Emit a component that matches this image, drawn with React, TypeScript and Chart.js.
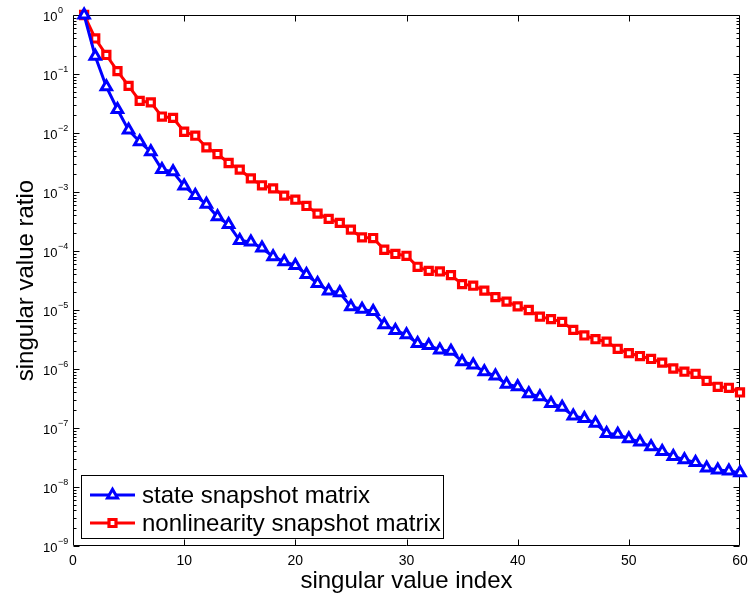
import React, { useEffect, useRef } from 'react';
import { Chart, registerables } from 'chart.js';

Chart.register(...registerables);

const FONT = '"Liberation Sans", Arial, Helvetica, sans-serif';

const indices = [
  1, 2, 3, 4, 5, 6, 7, 8, 9, 10, 11, 12, 13, 14, 15, 16, 17, 18, 19, 20,
  21, 22, 23, 24, 25, 26, 27, 28, 29, 30, 31, 32, 33, 34, 35, 36, 37, 38, 39, 40,
  41, 42, 43, 44, 45, 46, 47, 48, 49, 50, 51, 52, 53, 54, 55, 56, 57, 58, 59, 60,
];

const stateRatios = [
  1.0, 0.2, 0.061, 0.025, 0.0112, 0.0071, 0.0048, 0.0024, 0.0022, 0.00126,
  0.00087, 0.00062, 0.00038, 0.00028, 0.00015, 0.000142, 0.000112, 0.00008, 0.000066, 0.000057,
  0.00004, 0.000028, 0.000021, 0.0000196, 0.0000114, 0.0000103, 0.0000094, 0.0000056, 0.0000045, 0.0000038,
  0.0000027, 0.0000025, 0.0000021, 0.000002, 0.00000133, 0.00000117, 0.0000009, 0.00000076, 0.00000055, 0.0000005,
  0.00000038, 0.00000034, 0.00000026, 0.000000224, 0.00000016, 0.000000145, 0.00000012, 0.000000081, 0.000000078, 0.000000066,
  0.000000058, 0.000000048, 0.00000004, 0.000000033, 0.000000029, 0.000000026, 0.000000021, 0.0000000195, 0.0000000187, 0.0000000175,
];

const nonlinearityRatios = [
  1.0, 0.4, 0.21, 0.112, 0.063, 0.035, 0.033, 0.019, 0.018, 0.0105,
  0.009, 0.0057, 0.0044, 0.0031, 0.0024, 0.0017, 0.0013, 0.00115, 0.00087, 0.00074,
  0.00058, 0.00043, 0.00035, 0.0003, 0.00023, 0.00017, 0.000166, 0.000105, 0.000089, 0.000083,
  0.000054, 0.000046, 0.000045, 0.000039, 0.0000274, 0.0000258, 0.0000213, 0.0000165, 0.0000139, 0.0000115,
  0.00001, 0.0000077, 0.000007, 0.0000063, 0.0000046, 0.0000037, 0.0000032, 0.0000029, 0.0000022, 0.00000185,
  0.00000166, 0.00000148, 0.00000128, 0.00000102, 0.0000009, 0.00000083, 0.00000063, 0.0000005, 0.00000048, 0.0000004,
];

const seriesLabels = ['state snapshot matrix', 'nonlinearity snapshot matrix'];
const seriesColors = ['#0000ff', '#ff0000'];
const yExponents = [0, -1, -2, -3, -4, -5, -6, -7, -8, -9];
const yMinorMultipliers = [2, 3, 4, 5, 6, 7, 8, 9];
const xTickValues = [0, 10, 20, 30, 40, 50, 60];

function drawMarker(ctx: CanvasRenderingContext2D, style: string, cx: number, cy: number, color: string) {
  ctx.save();
  ctx.strokeStyle = color;
  ctx.fillStyle = '#ffffff';
  ctx.beginPath();
  if (style === 'triangle') {
    ctx.lineWidth = 3;
    const r = 5.8;
    ctx.moveTo(cx, cy - r);
    ctx.lineTo(cx + r * 0.866, cy + r * 0.5);
    ctx.lineTo(cx - r * 0.866, cy + r * 0.5);
    ctx.closePath();
  } else {
    ctx.lineWidth = 3.2;
    const h = 3.5;
    ctx.rect(cx - h, cy - h, 2 * h, 2 * h);
  }
  ctx.fill();
  ctx.stroke();
  ctx.restore();
}

const framePlugin = {
  id: 'matlabFrame',
  beforeDatasetsDraw(chart: any) {
    const { ctx, chartArea, scales } = chart;
    const { left, right, top, bottom } = chartArea;
    const ys = scales.y;
    const xs = scales.x;
    ctx.save();
    ctx.strokeStyle = '#000';
    ctx.lineWidth = 1;
    const L = Math.round(left) + 0.5;
    const R = Math.round(right) - 0.5;
    const T = Math.round(top) + 0.5;
    const B = Math.round(bottom) - 0.5;
    ctx.beginPath();
    ctx.rect(L, T, R - L, B - T);
    for (const e of yExponents) {
      const base = Math.pow(10, e);
      const py = Math.round(ys.getPixelForValue(base)) + 0.5;
      ctx.moveTo(L, py); ctx.lineTo(L + 6, py);
      ctx.moveTo(R, py); ctx.lineTo(R - 6, py);
      if (e < 0) {
        for (const m of yMinorMultipliers) {
          const my = Math.round(ys.getPixelForValue(m * base)) + 0.5;
          ctx.moveTo(L, my); ctx.lineTo(L + 3, my);
          ctx.moveTo(R, my); ctx.lineTo(R - 3, my);
        }
      }
    }
    for (const v of xTickValues) {
      if (v === 0 || v === 60) continue;
      const px = Math.round(xs.getPixelForValue(v)) + 0.5;
      ctx.moveTo(px, B); ctx.lineTo(px, B - 6);
      ctx.moveTo(px, T); ctx.lineTo(px, T + 6);
    }
    ctx.stroke();

    // y tick labels 10^e
    ctx.fillStyle = '#000';
    ctx.textBaseline = 'middle';
    ctx.textAlign = 'left';
    for (const e of yExponents) {
      const py = ys.getPixelForValue(Math.pow(10, e));
      ctx.font = `13px ${FONT}`;
      ctx.fillText('10', 43, py + 2);
      const w = ctx.measureText('10').width;
      ctx.font = `9px ${FONT}`;
      ctx.fillText(e === 0 ? '0' : '\u2212' + String(-e), 43 + w + 0.5, py - 4);
    }
    ctx.restore();
  },
  afterDraw(chart: any) {
    const { ctx } = chart;
    ctx.save();
    const bx = 81.5, by = 475.5, bw = 362, bh = 63;
    ctx.fillStyle = '#fff';
    ctx.fillRect(bx, by, bw, bh);
    ctx.strokeStyle = '#000';
    ctx.lineWidth = 1;
    ctx.strokeRect(bx, by, bw, bh);
    const rows = [495, 523];
    chart.data.datasets.forEach((ds: any, i: number) => {
      const yy = rows[i];
      ctx.strokeStyle = ds.borderColor;
      ctx.lineWidth = 3;
      ctx.beginPath();
      ctx.moveTo(90, yy);
      ctx.lineTo(135, yy);
      ctx.stroke();
      drawMarker(ctx, ds.pointStyle, 112.5, yy, ds.borderColor);
      ctx.fillStyle = '#000';
      ctx.font = `24px ${FONT}`;
      ctx.textBaseline = 'middle';
      ctx.textAlign = 'left';
      ctx.fillText(ds.label, 142, yy + 1);
    });
    ctx.restore();
  },
};

export default function App() {
  const ref = useRef<HTMLCanvasElement | null>(null);
  useEffect(() => {
    if (!ref.current) return;
    const mk = (vals: number[]) => indices.map((x, i) => ({ x, y: vals[i] }));
    const chart = new Chart(ref.current, {
      type: 'line',
      data: {
        datasets: [
          {
            label: seriesLabels[0],
            data: mk(stateRatios),
            borderColor: seriesColors[0],
            backgroundColor: '#ffffff',
            borderWidth: 3,
            pointStyle: 'triangle',
            pointRadius: 6,
            pointBorderWidth: 3,
            pointBackgroundColor: '#ffffff',
            pointBorderColor: seriesColors[0],
            tension: 0,
            clip: false,
          },
          {
            label: seriesLabels[1],
            data: mk(nonlinearityRatios),
            borderColor: seriesColors[1],
            backgroundColor: '#ffffff',
            borderWidth: 3,
            pointStyle: 'rect',
            pointRadius: 5,
            pointBorderWidth: 3.2,
            pointBackgroundColor: '#ffffff',
            pointBorderColor: seriesColors[1],
            tension: 0,
            clip: false,
          },
        ] as any,
      },
      options: {
        responsive: false,
        animation: false,
        layout: { padding: { top: 15, right: 5, left: 0, bottom: 0 } },
        plugins: { legend: { display: false }, tooltip: { enabled: false } },
        scales: {
          x: {
            type: 'linear',
            min: 0,
            max: 60,
            position: 'bottom',
            afterBuildTicks: (s: any) => { s.ticks = xTickValues.map((v) => ({ value: v })); },
            ticks: {
              color: '#000',
              font: { size: 14, family: FONT },
              padding: 7,
              maxRotation: 0,
              autoSkip: false,
            },
            grid: { display: false, drawTicks: false },
            border: { display: false },
            title: {
              display: true,
              text: 'singular value index',
              color: '#000',
              font: { size: 24, family: FONT },
              padding: { top: 0, bottom: 1 },
            },
            afterFit: (s: any) => { s.height = 51; s.paddingLeft = 0; s.paddingRight = 0; },
          },
          y: {
            type: 'logarithmic',
            min: 1e-9,
            max: 1,
            position: 'left',
            ticks: { display: false },
            grid: { display: false, drawTicks: false },
            border: { display: false },
            title: {
              display: true,
              text: 'singular value ratio',
              color: '#000',
              font: { size: 24, family: FONT },
              padding: { top: 12, bottom: 0 },
            },
            afterFit: (s: any) => { s.width = 73; s.paddingTop = 0; s.paddingBottom = 0; },
          },
        },
      } as any,
      plugins: [framePlugin],
    });
    return () => chart.destroy();
  }, []);
  return (
    <div style={{ position: 'absolute', left: 0, top: 0, width: 749, height: 597 }}>
      <canvas ref={ref} width={749} height={597} />
    </div>
  );
}
